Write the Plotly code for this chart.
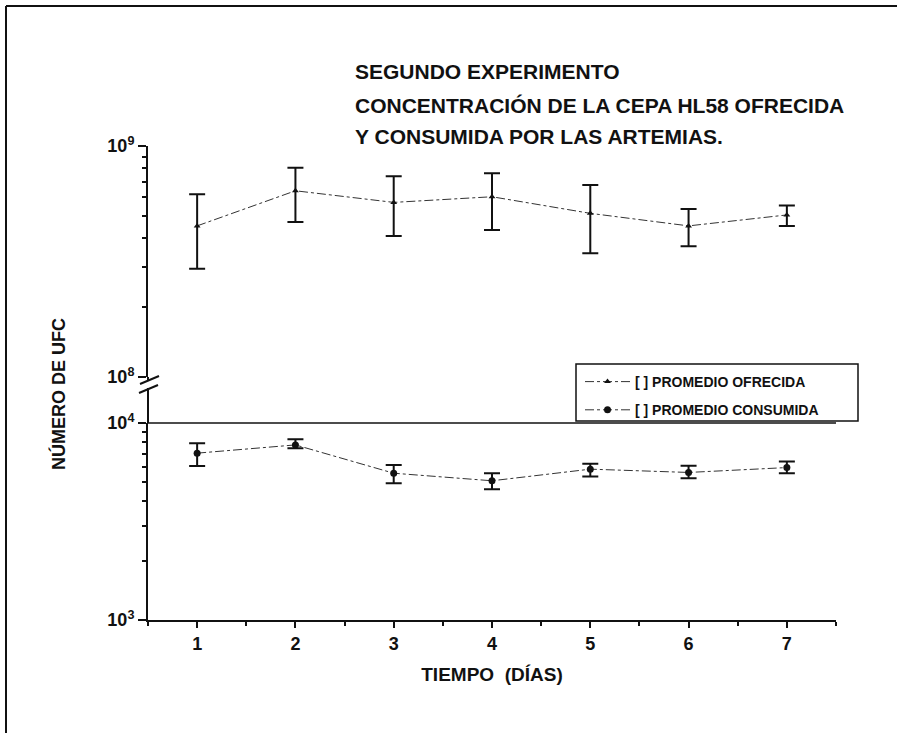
import plotly.graph_objects as go

# ---------------- data ----------------
days = [1, 2, 3, 4, 5, 6, 7]
ofrecida = [4.51e8, 6.40e8, 5.70e8, 6.03e8, 5.11e8, 4.51e8, 5.03e8]
ofrecida_hi = [6.18e8, 8.05e8, 7.39e8, 7.62e8, 6.78e8, 5.34e8, 5.52e8]
ofrecida_lo = [2.94e8, 4.69e8, 4.08e8, 4.33e8, 3.43e8, 3.68e8, 4.51e8]

consumida = [7.03e3, 7.74e3, 5.56e3, 5.09e3, 5.83e3, 5.61e3, 5.94e3]
consumida_hi = [7.90e3, 8.28e3, 6.12e3, 5.56e3, 6.21e3, 6.07e3, 6.37e3]
consumida_lo = [6.05e3, 7.45e3, 4.94e3, 4.61e3, 5.35e3, 5.25e3, 5.56e3]

x_ticks = [1, 2, 3, 4, 5, 6, 7]
upper_ticks = [1e8, 1e9]
upper_labels = ["10<sup>8</sup>", "10<sup>9</sup>"]
lower_ticks = [1e3, 1e4]
lower_labels = ["10<sup>3</sup>", "10<sup>4</sup>"]

title_lines = ["SEGUNDO EXPERIMENTO",
               "CONCENTRACIÓN DE LA CEPA HL58 OFRECIDA",
               "Y CONSUMIDA POR LAS ARTEMIAS."]
name_ofr = "[ ] PROMEDIO OFRECIDA"
name_con = "[ ] PROMEDIO CONSUMIDA"

# ---------------- layout geometry (pixels) ----------------
W, H = 897, 734
L, R, T, B = 148, 836, 146, 620      # plot area
pw, ph = R - L, B - T

def px(xp):
    return (xp - L) / pw

def py(yp):
    return (B - yp) / ph

up_bottom = 377
lo_top = 423

FONT = "Liberation Sans, Arial, sans-serif"
INK = "#111111"

fig = go.Figure()

fig.add_trace(go.Scatter(
    x=days, y=ofrecida, name=name_ofr, legendgroup="a",
    mode="lines+markers", xaxis="x", yaxis="y",
    line=dict(color="#333333", width=1, dash="dashdot"),
    marker=dict(symbol="triangle-up", size=6, color=INK),
    error_y=dict(type="data", symmetric=False,
                 array=[h - v for h, v in zip(ofrecida_hi, ofrecida)],
                 arrayminus=[v - l for v, l in zip(ofrecida, ofrecida_lo)],
                 color=INK, thickness=2, width=8),
))

fig.add_trace(go.Scatter(
    x=days, y=consumida, name=name_con, legendgroup="b",
    mode="lines+markers", xaxis="x", yaxis="y2",
    line=dict(color="#333333", width=1, dash="dashdot"),
    marker=dict(symbol="circle", size=7, color=INK),
    error_y=dict(type="data", symmetric=False,
                 array=[h - v for h, v in zip(consumida_hi, consumida)],
                 arrayminus=[v - l for v, l in zip(consumida, consumida_lo)],
                 color=INK, thickness=2, width=8),
))

tickfont = dict(family=FONT, size=18, color=INK, weight="bold")

fig.update_layout(
    width=W, height=H,
    margin=dict(l=L, r=W - R, t=T, b=H - B),
    paper_bgcolor="white", plot_bgcolor="white",
    font=dict(family=FONT, color=INK),
    showlegend=True,
    legend=dict(x=px(580), y=py(366), xanchor="left", yanchor="top",
                borderwidth=0, bgcolor="rgba(0,0,0,0)", itemwidth=45,
                font=dict(family=FONT, size=14, color=INK, weight="bold"),
                traceorder="grouped", tracegroupgap=7),
    xaxis=dict(
        anchor="y2", range=[0.5, 7.5], tickvals=x_ticks,
        ticks="outside", ticklen=6, tickwidth=2, tickcolor=INK,
        showline=True, linecolor=INK, linewidth=2, showgrid=False,
        zeroline=False, tickfont=tickfont,
        minor=dict(dtick=0.5, tick0=0.5, ticks="outside", ticklen=4,
                   tickwidth=1.5, tickcolor=INK, showgrid=False),
        title=dict(text="TIEMPO  (DÍAS)", standoff=15,
                   font=dict(family=FONT, size=19, color=INK, weight="bold")),
    ),
    yaxis=dict(
        type="log", range=[8, 9], domain=[py(up_bottom), 1], anchor="x",
        tickvals=upper_ticks, ticktext=upper_labels,
        ticks="outside", ticklen=8, tickwidth=2, tickcolor=INK,
        showline=True, linecolor=INK, linewidth=2, showgrid=False,
        zeroline=False, tickfont=tickfont,
        minor=dict(tickvals=[k * 1e8 for k in range(2, 10)], ticks="outside",
                   ticklen=4, tickwidth=1.5, tickcolor=INK, showgrid=False),
    ),
    yaxis2=dict(
        type="log", range=[3, 4], domain=[0, py(lo_top)], anchor="x",
        tickvals=lower_ticks, ticktext=lower_labels,
        ticks="outside", ticklen=8, tickwidth=2, tickcolor=INK,
        showline=True, linecolor=INK, linewidth=2, showgrid=False,
        zeroline=False, tickfont=tickfont,
        minor=dict(tickvals=[k * 1e3 for k in range(2, 10)], ticks="outside",
                   ticklen=4, tickwidth=1.5, tickcolor=INK, showgrid=False),
    ),
)

shapes = []
# top line of lower panel at 10^4
shapes.append(dict(type="line", xref="paper", yref="y2 domain",
                   x0=0, x1=1, y0=1, y1=1, line=dict(color=INK, width=1.5)))
# axis continuation through the break
shapes.append(dict(type="line", xref="paper", yref="paper",
                   x0=0, x1=0, y0=py(up_bottom), y1=py(381), line=dict(color=INK, width=2)))
shapes.append(dict(type="line", xref="paper", yref="paper",
                   x0=0, x1=0, y0=py(388), y1=py(lo_top), line=dict(color=INK, width=2)))
# break slashes
shapes.append(dict(type="line", xref="paper", yref="paper",
                   x0=px(140), x1=px(159), y0=py(384), y1=py(376), line=dict(color=INK, width=2)))
shapes.append(dict(type="line", xref="paper", yref="paper",
                   x0=px(139), x1=px(158), y0=py(393), y1=py(385), line=dict(color=INK, width=2)))
# legend box
shapes.append(dict(type="rect", xref="paper", yref="paper",
                   x0=px(576), x1=px(858), y0=py(421), y1=py(364),
                   line=dict(color=INK, width=1.5), fillcolor="white", layer="below"))
# page frame (top and left)
shapes.append(dict(type="line", xref="paper", yref="paper",
                   x0=px(6), x1=px(897), y0=py(6), y1=py(6), line=dict(color=INK, width=2)))
shapes.append(dict(type="line", xref="paper", yref="paper",
                   x0=px(6), x1=px(6), y0=py(6), y1=py(733), line=dict(color=INK, width=2)))
fig.update_layout(shapes=shapes)

annotations = []
for txt, yc in zip(title_lines, [71, 105, 137]):
    annotations.append(dict(text=txt, xref="paper", yref="paper",
                            x=px(353), y=py(yc), xanchor="left", yanchor="middle",
                            showarrow=False,
                            font=dict(family=FONT, size=21, color=INK, weight="bold")))
annotations.append(dict(text="NÚMERO DE UFC", xref="paper", yref="paper",
                        x=px(58), y=py(394), xanchor="center", yanchor="middle",
                        textangle=-90, showarrow=False,
                        font=dict(family=FONT, size=18, color=INK, weight="bold")))
fig.update_layout(annotations=annotations)

fig.write_html("out.html",
               config={"displayModeBar": False},
               post_script="document.body.style.margin='0';document.body.style.overflow='hidden';")
